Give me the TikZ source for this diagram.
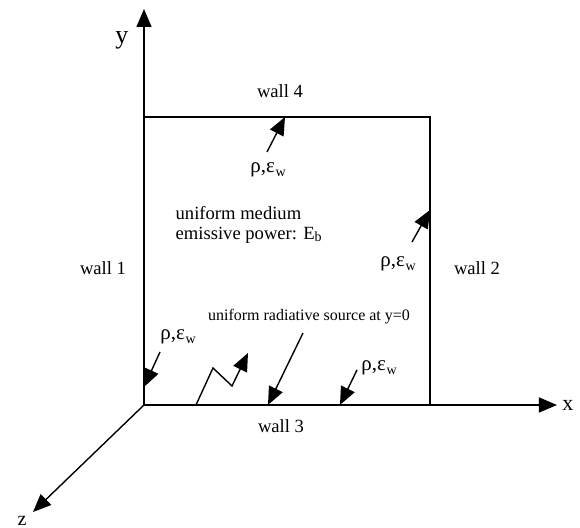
\documentclass[tikz,border=0pt]{standalone}
\usepackage{fontspec}
\setmainfont{Liberation Serif}
\usetikzlibrary{arrows.meta,positioning,calc}

\newcommand{\rhoeps}{ρ,ε\kern0.3pt\raisebox{-0.4ex}{\scriptsize w}}

\begin{document}
\begin{tikzpicture}[
        x=0.5pt, y=0.5pt,
        >={Triangle[length=9pt,width=7.5pt]},
        line width=0.7pt,
        lbl/.style={font=\fontsize{9.3}{11}\selectfont, inner sep=0pt},
        prop/.style={font=\fontsize{10.5}{12}\selectfont, inner sep=0pt},
        axis/.style={->},
        ray/.style={->}
    ]
        \useasboundingbox (-144,-123) rectangle (436,405);
        % axes
        \coordinate (O) at (0,0);
        \coordinate (xtip) at (413,0);
        \coordinate (ytip) at (0,396);
        \coordinate (ztip) at (-111,-107);
        \draw[axis] (O) -- (xtip);
        \draw[axis] (O) -- (ytip);
        \draw[axis] (O) -- (ztip);
        \node[inner sep=0pt, font=\fontsize{11}{13}\selectfont] (xl) at (424,0) {x};
        \node[inner sep=0pt, font=\fontsize{13}{15}\selectfont] (yl) at (-22,365) {y};
        \node[inner sep=0pt, font=\fontsize{10}{12}\selectfont] (zl) at (-122,-116) {z};
        % enclosure
        \coordinate (tl) at (0,288);
        \coordinate (tr) at (286,288);
        \coordinate (br) at (286,0);
        \draw (tl) -- (tr) -- (br);
        \node[lbl] (w4) at (136,314) {wall 4};
        \node[lbl] (w1) at (-41,137) {wall 1};
        \node[lbl] (w2) at (333,137) {wall 2};
        \node[lbl] (w3) at (137,-21) {wall 3};
        \node[lbl, anchor=west] (med) at (31,192) {uniform medium};
        \node[lbl, anchor=west] (emis) at (31,170) {emissive power: E\raisebox{-0.3ex}{\scriptsize b}};
        \node[inner sep=0pt, font=\fontsize{8}{10}\selectfont] (src) at (165,88) {uniform radiative source at y=0};
        % wall properties
        \node[prop] (p4) at (124,235) {\rhoeps};
        \node[prop] (p2) at (254,141) {\rhoeps};
        \node[prop] (p1) at (34,68) {\rhoeps};
        \node[prop] (p3) at (235,37) {\rhoeps};
        \coordinate (t4) at (123,253);
        \coordinate (h4) at (141,288);
        \coordinate (t2) at (268,163);
        \coordinate (h2) at (286,195);
        \coordinate (t1) at (16,53);
        \coordinate (h1) at (0,18);
        \coordinate (t3) at (213,35);
        \coordinate (h3) at (196,0);
        \draw[ray] (t4) -- (h4);
        \draw[ray] (t2) -- (h2);
        \draw[ray] (t1) -- (h1);
        \draw[ray] (t3) -- (h3);
        % source and emission
        \coordinate (ts) at (159,72);
        \coordinate (hs) at (124,0);
        \draw[ray] (ts) -- (hs);
        \coordinate (z0) at (52,0);
        \coordinate (z1) at (69,37);
        \coordinate (z2) at (88,19);
        \coordinate (z3) at (104,52);
        \draw[ray] (z0) -- (z1) -- (z2) -- (z3);
    \end{tikzpicture}
\end{document}
